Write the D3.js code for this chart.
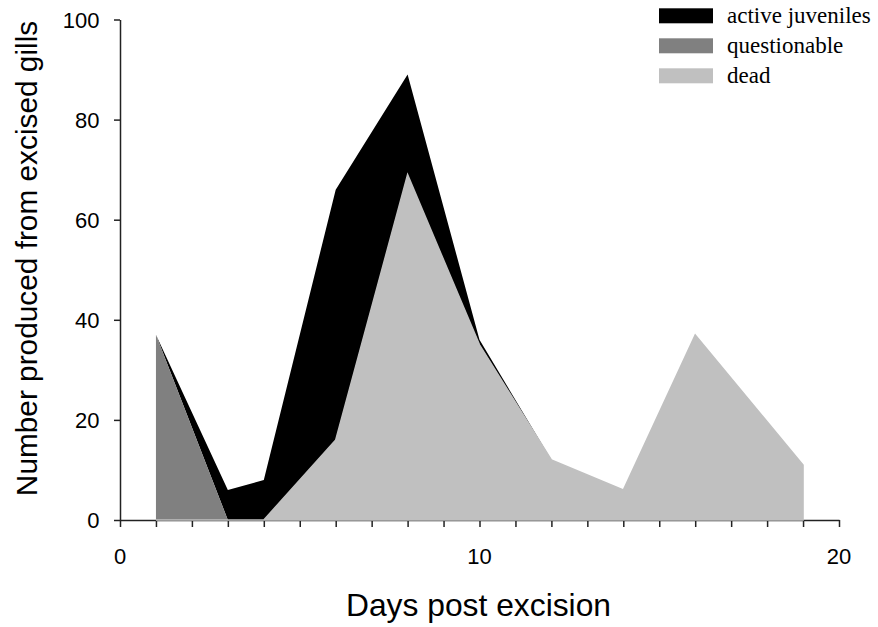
<!DOCTYPE html>
<html>
<head>
<meta charset="utf-8">
<script src="https://cdn.jsdelivr.net/npm/d3@7/dist/d3.min.js"></script>
<style>
  html, body { margin: 0; padding: 0; background: #fff; }
  svg { display: block; }
</style>
</head>
<body>
<svg id="chart" width="878" height="627"></svg>
<script>
// Data
const days = [1, 3, 4, 6, 8, 10, 12, 14, 16, 19];
const active = [0, 6, 8, 50, 20, 1, 0, 0, 0, 0];
const questionable = [37, 0, 0, 0, 0, 0, 0, 0, 0, 0];
const dead = [0, 0, 0, 16, 69, 35, 12, 6, 37, 11];
const seriesKeys = ["dead", "questionable", "active"];
const legendLabels = ["active juveniles", "questionable", "dead"];
const legendKeys = ["active", "questionable", "dead"];
const xTickLabels = [0, 10, 20];
const yTickLabels = [0, 20, 40, 60, 80, 100];

const colors = { active: "#000000", questionable: "#808080", dead: "#c0c0c0" };

const rows = days.map((d, i) => ({ day: d, active: active[i], questionable: questionable[i], dead: dead[i] }));

const svg = d3.select("#chart");
const x = d3.scaleLinear().domain([0, 20]).range([120, 839]);
const y = d3.scaleLinear().domain([0, 100]).range([520, 19.5]);
const axisColor = "#222";

// Axes
const xAxis = svg.append("g").attr("transform", `translate(0,${y(0)})`)
  .call(d3.axisBottom(x).tickValues(d3.range(0, 21, 1)).tickSize(7).tickSizeOuter(0).tickFormat(""));
const yAxis = svg.append("g").attr("transform", `translate(${x(0)},0)`)
  .call(d3.axisLeft(y).tickValues(yTickLabels).tickSize(6).tickSizeOuter(0).tickFormat(""));
[xAxis, yAxis].forEach(g => {
  g.selectAll("path").attr("stroke", axisColor).attr("stroke-width", 1.5);
  g.selectAll("line").attr("stroke", axisColor).attr("stroke-width", 1.5);
});

// tick labels
svg.append("g").selectAll("text").data(xTickLabels).join("text")
  .attr("x", d => x(d)).attr("y", 564)
  .attr("text-anchor", "middle")
  .attr("font-family", "'Liberation Sans', Arial, sans-serif")
  .attr("font-size", 22).attr("fill", "#000")
  .text(d => d);
svg.append("g").selectAll("text").data(yTickLabels).join("text")
  .attr("x", 99.5).attr("y", d => y(d) + 8)
  .attr("text-anchor", "end")
  .attr("font-family", "'Liberation Sans', Arial, sans-serif")
  .attr("font-size", 22).attr("fill", "#000")
  .text(d => d);

// Stacked areas
const stack = d3.stack().keys(seriesKeys);
const stacked = stack(rows);
const area = d3.area()
  .x(d => x(d.data.day))
  .y0(d => y(d[0]))
  .y1(d => y(d[1]));

const drawOrder = ["active", "questionable", "dead"];
drawOrder.forEach(k => {
  const s = stacked.find(s => s.key === k);
  const p = svg.append("path").datum(s)
    .attr("d", area)
    .attr("fill", colors[k]);
  if (k === "dead") p.attr("stroke", colors[k]).attr("stroke-width", 1.5).attr("stroke-linejoin", "miter");
});

// Axis titles
svg.append("text")
  .attr("x", 478.5).attr("y", 616)
  .attr("text-anchor", "middle")
  .attr("font-family", "'Liberation Sans', Arial, sans-serif")
  .attr("font-size", 31.8).attr("fill", "#000")
  .text("Days post excision");
svg.append("text")
  .attr("transform", "translate(37,258.5) rotate(-90)")
  .attr("text-anchor", "middle")
  .attr("font-family", "'Liberation Sans', Arial, sans-serif")
  .attr("font-size", 29.8).attr("fill", "#000")
  .text("Number produced from excised gills");

// Legend
const legend = svg.append("g");
legendKeys.forEach((k, i) => {
  legend.append("rect")
    .attr("x", 659).attr("y", 8.3 + i * 30)
    .attr("width", 54).attr("height", 15)
    .attr("fill", colors[k]);
  legend.append("text")
    .attr("x", 727).attr("y", 23 + i * 30)
    .attr("font-family", "'Liberation Serif', 'Times New Roman', serif")
    .attr("font-size", 23).attr("fill", "#000")
    .text(legendLabels[i]);
});
</script>
</body>
</html>
